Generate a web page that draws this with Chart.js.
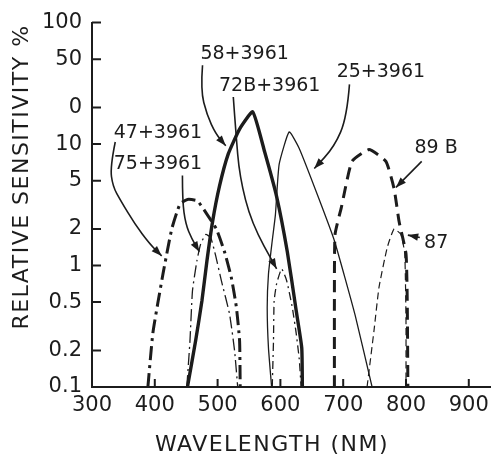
<!DOCTYPE html>
<html>
<head>
<meta charset="utf-8">
<script src="https://cdn.jsdelivr.net/npm/chart.js@4.4.1/dist/chart.umd.min.js"></script>
<style>
  html, body { margin: 0; padding: 0; background: #fff; }
  #wrap { width: 495px; height: 455px; }
</style>
</head>
<body>
<div id="wrap"><canvas id="chart" width="495" height="455"></canvas></div>
<script>
(() => {
  'use strict';

  // === Ejes ===
  const X_TICKS = [300, 400, 500, 600, 700, 800, 900];
  const Y_TICKS = [0.1, 0.2, 0.5, 1, 2, 5, 10, 20, 50, 100];
  const Y_TICK_LABELS = ['0.1', '0.2', '0.5', '1', '2', '5', '10', '0', '50', '100'];

  // === Curvas (longitud de onda nm / sensibilidad relativa %) ===
  const NM_58  = [452, 465, 475, 483, 492, 503, 517, 535, 556, 575, 594, 611, 625, 634, 635];
  const VAL_58 = [0.1, 0.24, 0.51, 1.09, 2.3, 4.5, 8.3, 13.3, 18.4, 8.6, 3.7, 1.3, 0.43, 0.21, 0.1];

  const NM_25  = [586, 581, 579, 581, 587, 592, 598, 614, 630, 660, 686, 719, 746];
  const VAL_25 = [0.1, 0.21, 0.45, 0.85, 1.6, 2.6, 6.8, 12.6, 9.2, 3.7, 1.6, 0.39, 0.1];

  const NM_89B  = [686, 686, 687, 697, 714, 741, 768, 781, 789, 800, 802, 803];
  const VAL_89B = [0.1, 0.51, 1.8, 3.0, 7.2, 9.0, 7.2, 4.3, 2.3, 1.25, 0.51, 0.1];

  const NM_87  = [738, 749, 757, 770, 781, 792, 798, 800, 800];
  const VAL_87 = [0.1, 0.29, 0.66, 1.4, 2.0, 1.8, 1.25, 0.35, 0.1];

  const NM_47  = [389, 397, 413, 427, 440, 452, 468, 484, 498, 511, 522, 530, 535, 536];
  const VAL_47 = [0.1, 0.28, 0.85, 2.0, 3.2, 3.5, 3.4, 2.6, 2.0, 1.3, 0.79, 0.45, 0.24, 0.1];

  const NM_75  = [451, 456, 460, 467, 473, 481, 489, 497, 506, 519, 527, 532];
  const VAL_75 = [0.1, 0.24, 0.62, 1.09, 1.5, 1.8, 1.7, 1.2, 0.75, 0.40, 0.2, 0.1];

  const NM_72B  = [587, 589, 590, 594, 602, 610, 619, 625, 630, 633];
  const VAL_72B = [0.1, 0.24, 0.51, 0.71, 0.94, 0.75, 0.45, 0.28, 0.17, 0.1];

  // === Etiquetas con flecha (texto en nm/%, trazo de flecha en nm/%) ===
  const LABELS = [
    { text: '58+3961',  at: [543, 54.7], path: [[476, 44.5], [473, 27.8], [483, 17.4], [497, 12.1], [513, 9.7]] },
    { text: '72B+3961', at: [583, 30],   path: [[525, 24.4], [529, 12.6], [535, 5.4], [554, 2.23], [594, 0.94]] },
    { text: '25+3961',  at: [760, 39],   path: [[710, 31], [706, 16.7], [686, 9.5], [654, 6.3]] },
    { text: '47+3961',  at: [405, 12.4], path: [[337, 10.4], [329, 6.5], [333, 4.5], [346, 3.4], [368, 2.2], [392, 1.5], [411, 1.2]] },
    { text: '75+3961',  at: [405, 6.8],  path: [[444, 5.5], [444, 3.4], [449, 2.2], [459, 1.65], [471, 1.3]] },
    { text: '89 B',     at: [848, 9.2],  path: [[825, 7.2], [784, 4.4]] },
    { text: '87',       at: [848, 1.53], path: [[822, 1.7], [803, 1.78]] },
  ];

  const INK = '#1c1c1c';
  const FONT = "'DejaVu Sans', 'Liberation Sans', sans-serif";

  const pts = (xs, ys) => xs.map((v, i) => ({ x: v, y: ys[i] }));
  const serie = (label, xs, ys, width, dash) => ({
    label, data: pts(xs, ys),
    showLine: true, borderColor: INK, borderWidth: width, borderDash: dash,
    pointRadius: 0, tension: 0.15, fill: false,
  });

  // Marcas de eje hacia dentro, títulos y etiquetas con flecha
  const decoPlugin = {
    id: 'deco',
    afterDraw(chart) {
      const { ctx, chartArea: a, scales: { x, y } } = chart;
      const P = (p) => [x.getPixelForValue(p[0]), y.getPixelForValue(p[1])];
      ctx.save();
      ctx.strokeStyle = INK; ctx.fillStyle = INK; ctx.lineWidth = 2;

      ctx.beginPath();
      X_TICKS.forEach(v => { const px = x.getPixelForValue(v); ctx.moveTo(px, a.bottom); ctx.lineTo(px, a.bottom - 8); });
      Y_TICKS.forEach(v => { const py = y.getPixelForValue(v); ctx.moveTo(a.left, py); ctx.lineTo(a.left + 9, py); });
      ctx.stroke();

      // títulos
      ctx.font = `22px ${FONT}`;
      ctx.letterSpacing = '1.5px';
      ctx.textAlign = 'center'; ctx.textBaseline = 'middle';
      ctx.fillText('WAVELENGTH (NM)', a.left + 180, 445);
      ctx.save();
      ctx.translate(22, 177); ctx.rotate(-Math.PI / 2);
      ctx.fillText('RELATIVE SENSITIVITY %', 0, 0);
      ctx.restore();
      ctx.letterSpacing = '0px';

      // etiquetas
      ctx.font = `19px ${FONT}`;
      ctx.lineWidth = 1.6;
      LABELS.forEach(l => {
        const [tx, ty] = P(l.at);
        ctx.fillText(l.text, tx, ty);
        const p = l.path.map(P);
        ctx.beginPath();
        ctx.moveTo(p[0][0], p[0][1]);
        for (let i = 1; i < p.length - 1; i++) {
          const mx = (p[i][0] + p[i + 1][0]) / 2, my = (p[i][1] + p[i + 1][1]) / 2;
          ctx.quadraticCurveTo(p[i][0], p[i][1], mx, my);
        }
        const end = p[p.length - 1], prev = p[p.length - 2];
        ctx.lineTo(end[0], end[1]);
        ctx.stroke();
        const ang = Math.atan2(end[1] - prev[1], end[0] - prev[0]);
        ctx.beginPath();
        ctx.moveTo(end[0], end[1]);
        ctx.lineTo(end[0] - 11 * Math.cos(ang - 0.35), end[1] - 11 * Math.sin(ang - 0.35));
        ctx.lineTo(end[0] - 11 * Math.cos(ang + 0.35), end[1] - 11 * Math.sin(ang + 0.35));
        ctx.closePath();
        ctx.fill();
      });
      ctx.restore();
    }
  };

  new Chart(document.getElementById('chart').getContext('2d'), {
    type: 'scatter',
    data: {
      datasets: [
        serie('58+3961',  NM_58,  VAL_58,  3.4, []),
        serie('25+3961',  NM_25,  VAL_25,  1.3, []),
        serie('89B',      NM_89B, VAL_89B, 3,   [12, 7]),
        serie('87',       NM_87,  VAL_87,  1.2, [7, 4]),
        serie('47+3961',  NM_47,  VAL_47,  3,   [14, 5, 3, 5]),
        serie('75+3961',  NM_75,  VAL_75,  1.3, [12, 4, 2, 4]),
        serie('72B+3961', NM_72B, VAL_72B, 1.3, [8, 4, 2, 4]),
      ]
    },
    options: {
      responsive: false,
      devicePixelRatio: 1,
      animation: false,
      layout: { padding: { top: 20, right: 3, left: 0, bottom: 0 } },
      plugins: { legend: { display: false }, tooltip: { enabled: false } },
      scales: {
        x: {
          type: 'linear', min: 300, max: 935,
          afterBuildTicks: (s) => { s.ticks = X_TICKS.map(v => ({ value: v })); },
          afterFit: (s) => { s.height = 68; },
          grid: { display: false, drawTicks: false },
          border: { display: true, color: INK, width: 2 },
          ticks: { color: INK, padding: 6, maxRotation: 0, autoSkip: false, font: { family: FONT, size: 21 } },
        },
        y: {
          type: 'logarithmic', min: 0.1, max: 100,
          afterBuildTicks: (s) => { s.ticks = Y_TICKS.map(v => ({ value: v })); },
          afterFit: (s) => { s.width = 92; },
          grid: { display: false, drawTicks: false },
          border: { display: true, color: INK, width: 2 },
          ticks: {
            color: INK, padding: 10, autoSkip: false, font: { family: FONT, size: 21 },
            callback: (v) => { const i = Y_TICKS.indexOf(v); return i >= 0 ? Y_TICK_LABELS[i] : ''; }
          },
        }
      }
    },
    plugins: [decoPlugin]
  });
})();
</script>
</body>
</html>
